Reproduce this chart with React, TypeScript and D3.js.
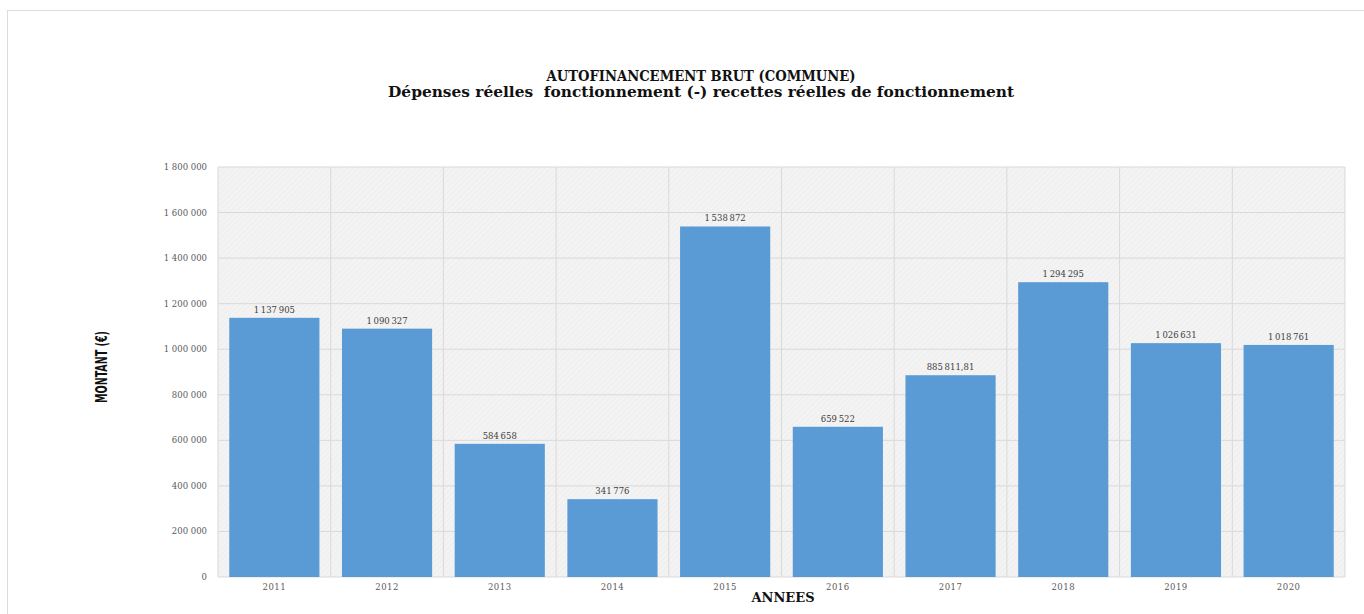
import React from "react";
import * as d3 from "d3";

const years = ["2011", "2012", "2013", "2014", "2015", "2016", "2017", "2018", "2019", "2020"];
const values = [1137905, 1090327, 584658, 341776, 1538872, 659522, 885811.81, 1294295, 1026631, 1018761];
const yTicks = [0, 200000, 400000, 600000, 800000, 1000000, 1200000, 1400000, 1600000, 1800000];
const titleLine1 = "AUTOFINANCEMENT BRUT (COMMUNE)";
const titleLine2 = "Dépenses réelles  fonctionnement (-) recettes réelles de fonctionnement";
const yTitle = "MONTANT (€)";
const xTitle = "ANNEES";

const W = 1364;
const H = 614;
const M = { left: 218, right: 1345, top: 167, bottom: 577 };

const fr = d3.formatLocale({ decimal: ",", thousands: "\u2009", grouping: [3], currency: ["", " €"] });
const fmtInt = fr.format(",.0f");
const fmtDec = fr.format(",.2f");
const fmtVal = (v: number) => (Number.isInteger(v) ? fmtInt(v) : fmtDec(v));
const fmtTick = (v: number) => fr.format(",.0f")(v).replace(/\u2009/g, " ");

export default function App() {
  const x = d3.scaleBand<string>().domain(years).range([M.left, M.right]).paddingInner(0.2).paddingOuter(0.1);
  const y = d3.scaleLinear().domain([0, 1800000]).range([M.bottom, M.top]);
  const boundaries = d3.range(years.length + 1).map((i) => M.left + (M.right - M.left) * (i / years.length));
  const serif = "'DejaVu Serif', 'Liberation Serif', serif";

  return (
    <svg width={W} height={H} style={{ position: "absolute", left: 0, top: 0, background: "#fff" }}>
      <defs>
        <pattern id="hatch" width="4" height="4" patternUnits="userSpaceOnUse" patternTransform="rotate(45)">
          <rect width="4" height="4" fill="#f3f3f3" />
          <line x1="0" y1="0" x2="0" y2="4" stroke="#e9e9e9" strokeWidth="1" />
        </pattern>
      </defs>
      <rect x={7.5} y={10.5} width={W} height={H} fill="#fff" stroke="#dcdcdc" strokeWidth={1} />

      <text
        x={701}
        y={81}
        textAnchor="middle"
        fontFamily={serif}
        fontWeight="bold"
        fontSize={14}
        fill="#111"
        textLength={309}
        lengthAdjust="spacingAndGlyphs"
      >
        {titleLine1}
      </text>
      <text
        x={701}
        y={97}
        textAnchor="middle"
        fontFamily={serif}
        fontWeight="bold"
        fontSize={14}
        fill="#111"
        textLength={626}
        lengthAdjust="spacingAndGlyphs"
        style={{ whiteSpace: "pre" }}
      >
        {titleLine2}
      </text>

      <rect x={M.left} y={M.top} width={M.right - M.left} height={M.bottom - M.top} fill="url(#hatch)" />

      {yTicks.map((t) => (
        <line key={"h" + t} x1={M.left} x2={M.right} y1={y(t)} y2={y(t)} stroke="#d9d9d9" strokeWidth={1} />
      ))}
      {boundaries.map((b, i) => (
        <line key={"v" + i} x1={b} x2={b} y1={M.top} y2={M.bottom} stroke="#d9d9d9" strokeWidth={1} />
      ))}

      {yTicks.map((t) => (
        <text key={"t" + t} x={207} y={y(t) + 3} textAnchor="end" fontFamily={serif} fontSize={8.5} fill="#595959">
          {fmtTick(t)}
        </text>
      ))}

      {years.map((yr, i) => (
        <g key={yr}>
          <rect x={x(yr)} y={y(values[i])} width={x.bandwidth()} height={M.bottom - y(values[i])} fill="#5b9bd5" />
          <text
            x={(x(yr) as number) + x.bandwidth() / 2}
            y={y(values[i]) - 5}
            textAnchor="middle"
            fontFamily={serif}
            fontSize={8.5}
            fill="#404040"
          >
            {fmtVal(values[i])}
          </text>
          <text
            x={(x(yr) as number) + x.bandwidth() / 2}
            y={590}
            textAnchor="middle"
            fontFamily={serif}
            fontSize={8.5}
            letterSpacing={0.5}
            fill="#595959"
          >
            {yr}
          </text>
        </g>
      ))}

      <text x={783} y={602} textAnchor="middle" fontFamily={serif} fontWeight="bold" fontSize={13} fill="#111">
        {xTitle}
      </text>
      <text
        transform={`translate(107, 367) rotate(-90)`}
        textAnchor="middle"
        fontFamily="'DejaVu Sans Condensed', 'DejaVu Sans', sans-serif"
        fontWeight="bold"
        fontSize={15.5}
        fill="#111"
        textLength={72}
        lengthAdjust="spacingAndGlyphs"
      >
        {yTitle}
      </text>
    </svg>
  );
}
